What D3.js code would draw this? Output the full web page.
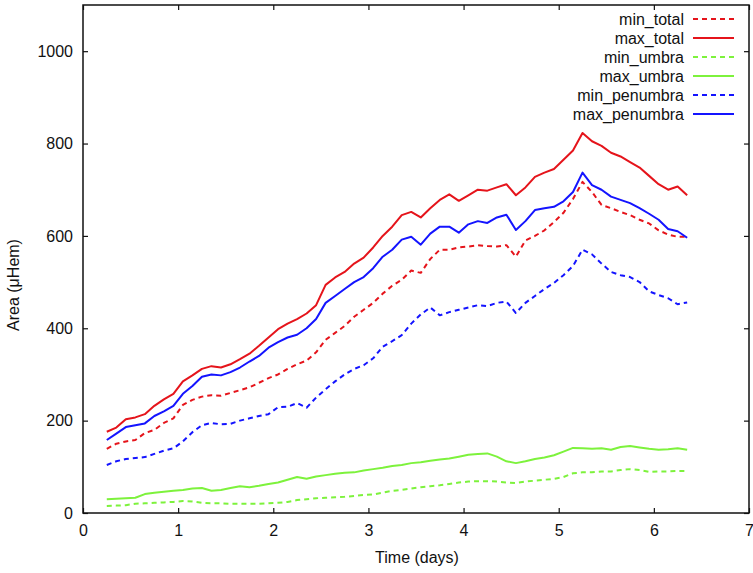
<!DOCTYPE html>
<html>
<head>
<meta charset="utf-8">
<script src="https://cdn.jsdelivr.net/npm/d3@7"></script>
<style>
  body { margin: 0; background: #fff; }
  svg text { font-family: "Liberation Sans", Arial, sans-serif; fill: #111; }
</style>
</head>
<body>
<svg id="chart" width="753" height="573"></svg>
<script>
// time in days
const days = [0.25,0.35,0.45,0.55,0.65,0.75,0.85,0.95,1.05,1.15,1.25,1.35,1.45,1.55,1.65,1.75,1.85,1.95,
  2.05,2.15,2.25,2.35,2.45,2.55,2.65,2.75,2.85,2.95,3.05,3.15,3.25,3.35,3.45,3.55,3.65,3.75,3.85,3.95,
  4.05,4.15,4.25,4.35,4.45,4.55,4.65,4.75,4.85,4.95,5.05,5.15,5.25,5.35,5.45,5.55,5.65,5.75,5.85,5.95,
  6.05,6.15,6.25,6.35];

const minTotal = [139,150,155,158,173,180,195,205,234,245,252,255,254,260,266,272,282,292,
  300,312,322,330,348,375,390,405,425,440,455,475,492,505,525,520,550,570,570,575,
  577,580,578,577,580,555,590,600,612,630,650,680,717,695,667,660,652,645,635,627,
  612,603,598,598];
const maxTotal = [176,185,203,207,214,232,246,258,285,298,312,318,315,322,333,345,362,380,
  398,410,420,432,450,494,510,522,540,553,575,600,620,645,652,640,660,678,690,676,
  688,700,698,705,712,688,705,728,737,745,765,785,823,805,795,780,772,760,748,730,
  712,700,707,688];
const minUmbra = [15,16,17,20,21,22,23,24,26,25,22,21,21,20,20,20,20,21,
  22,24,28,30,32,33,34,35,37,39,40,44,48,50,53,56,58,60,63,66,
  68,69,69,68,66,65,68,70,72,74,78,86,88,88,90,90,93,95,93,89,
  90,90,91,91];
const maxUmbra = [30,31,32,33,41,44,46,48,50,53,54,48,50,54,58,56,59,63,
  66,72,78,74,79,82,85,87,88,92,95,98,102,104,108,110,113,116,118,122,
  126,128,129,122,112,108,112,117,120,125,133,141,140,139,140,137,143,145,142,139,
  137,138,140,137];
const minPenumbra = [104,112,117,119,121,128,135,140,155,175,190,195,192,193,200,205,210,214,
  229,230,238,228,250,268,285,300,312,320,335,360,372,385,410,430,445,428,435,440,
  445,450,448,455,458,433,455,470,485,498,515,535,570,560,540,522,515,511,500,480,
  472,465,452,456];
const maxPenumbra = [158,172,186,190,194,210,220,232,258,275,295,300,298,305,315,328,340,358,
  370,380,386,400,420,455,470,485,500,511,530,555,570,592,598,581,605,620,620,607,
  625,632,628,640,646,613,632,656,660,663,675,695,737,710,700,685,678,671,660,648,
  635,615,610,596];

const seriesNames = ['min_total','max_total','min_umbra','max_umbra','min_penumbra','max_penumbra'];
const seriesValues = [minTotal, maxTotal, minUmbra, maxUmbra, minPenumbra, maxPenumbra];
const xTicks = [0,1,2,3,4,5,6,7];
const yTicks = [0,200,400,600,800,1000];

const red = '#e5141b', green = '#7df23c', blue = '#1414ff';
const styles = [
  { color: red, dash: '5,4' }, { color: red, dash: null },
  { color: green, dash: '5,4' }, { color: green, dash: null },
  { color: blue, dash: '5,4' }, { color: blue, dash: null }
];

const svg = d3.select('#chart');
const plotLeft = 83, plotRight = 749, plotTop = 5, plotBottom = 513;

const x = d3.scaleLinear().domain([0, 7]).range([plotLeft, plotRight]);
const y = d3.scaleLinear().domain([0, 1100]).range([plotBottom, plotTop]);

// ticks on all four sides, pointing inward
svg.append('g').attr('transform', `translate(0,${plotBottom})`)
  .call(d3.axisBottom(x).tickValues(xTicks).tickSize(-5).tickPadding(12).tickFormat(d3.format('d')))
  .call(g => g.select('.domain').remove());
svg.append('g').attr('transform', `translate(0,${plotTop})`)
  .call(d3.axisTop(x).tickValues(xTicks).tickSize(-5).tickFormat(''))
  .call(g => g.select('.domain').remove());
svg.append('g').attr('transform', `translate(${plotLeft},0)`)
  .call(d3.axisLeft(y).tickValues(yTicks).tickSize(-5).tickPadding(10).tickFormat(d3.format('d')))
  .call(g => g.select('.domain').remove());
svg.append('g').attr('transform', `translate(${plotRight},0)`)
  .call(d3.axisRight(y).tickValues(yTicks).tickSize(-5).tickFormat(''))
  .call(g => g.select('.domain').remove());

svg.selectAll('.tick line').attr('stroke', '#111').attr('stroke-width', 1.2);
svg.selectAll('.tick text').style('font-size', '16px').attr('fill', '#111');

// frame
svg.append('rect')
  .attr('x', plotLeft).attr('y', plotTop)
  .attr('width', plotRight - plotLeft).attr('height', plotBottom - plotTop)
  .attr('fill', 'none').attr('stroke', '#111').attr('stroke-width', 1.5);

const line = d3.line().x((d, i) => x(days[i])).y(d => y(d));

seriesValues.forEach((vals, i) => {
  svg.append('path')
    .datum(vals)
    .attr('d', line)
    .attr('fill', 'none')
    .attr('stroke', styles[i].color)
    .attr('stroke-width', 2)
    .attr('stroke-dasharray', styles[i].dash)
    .attr('stroke-linejoin', 'round');
});

// legend
const legend = svg.append('g');
seriesNames.forEach((name, i) => {
  const ly = 19 + i * 19;
  legend.append('text')
    .attr('x', 684).attr('y', ly).attr('dy', '0.35em')
    .attr('text-anchor', 'end').style('font-size', '16px')
    .text(name);
  legend.append('line')
    .attr('x1', 693).attr('x2', 734).attr('y1', ly).attr('y2', ly)
    .attr('stroke', styles[i].color).attr('stroke-width', 2)
    .attr('stroke-dasharray', styles[i].dash);
});

// axis titles
svg.append('text')
  .attr('x', (plotLeft + plotRight) / 2 + 1).attr('y', 563)
  .attr('text-anchor', 'middle').style('font-size', '16px')
  .text('Time (days)');
svg.append('text')
  .attr('transform', 'translate(19,285) rotate(-90)')
  .attr('text-anchor', 'middle').style('font-size', '16px')
  .text('Area (\u03BCHem)');
</script>
</body>
</html>
